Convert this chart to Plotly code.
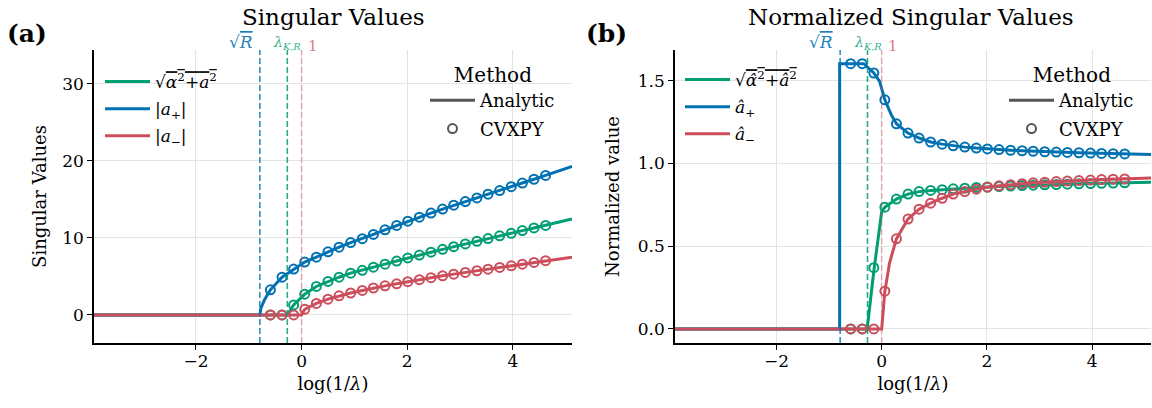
import plotly.graph_objects as go

# ---------------- data ----------------
x_cvx = [-0.59, -0.37, -0.15, 0.06, 0.28, 0.50, 0.71, 0.93, 1.15, 1.36, 1.58, 1.80, 2.01,
         2.23, 2.45, 2.67, 2.88, 3.10, 3.32, 3.53, 3.75, 3.97, 4.18, 4.40, 4.62]

# panel (a): singular values, CVXPY
sv_norm_cvx = [0, 0, 1.3, 2.7, 3.7, 4.35, 4.9, 5.43, 5.8, 6.2, 6.6, 7.0, 7.4,
               7.77, 8.15, 8.52, 8.87, 9.22, 9.57, 9.92, 10.27, 10.6, 10.95, 11.3, 11.63]
sv_plus_cvx = [3.26, 4.9, 5.96, 6.87, 7.5, 8.2, 8.8, 9.4, 9.9, 10.45, 11.05, 11.62, 12.17,
               12.7, 13.23, 13.75, 14.25, 14.72, 15.2, 15.68, 16.15, 16.65, 17.13, 17.62, 18.12]
sv_minus_cvx = [0, 0, 0, 0.74, 1.5, 2.05, 2.48, 2.85, 3.18, 3.5, 3.78, 4.05, 4.32,
                4.58, 4.84, 5.08, 5.3, 5.52, 5.74, 5.95, 6.17, 6.38, 6.6, 6.82, 7.05]

# panel (b): normalized values, CVXPY
nv_norm_cvx = [0, 0, 0.37, 0.736, 0.785, 0.815, 0.83, 0.837, 0.842, 0.847, 0.851, 0.855, 0.858,
               0.861, 0.864, 0.867, 0.869, 0.871, 0.873, 0.875, 0.877, 0.879, 0.880, 0.882, 0.883]
nv_plus_cvx = [1.603, 1.603, 1.547, 1.385, 1.24, 1.184, 1.154, 1.13, 1.117, 1.107, 1.099, 1.093, 1.088,
               1.084, 1.080, 1.077, 1.074, 1.071, 1.069, 1.067, 1.065, 1.063, 1.061, 1.059, 1.058]
nv_minus_cvx = [0, 0, 0, 0.228, 0.545, 0.664, 0.724, 0.76, 0.79, 0.815, 0.83, 0.845, 0.857,
                0.865, 0.872, 0.878, 0.883, 0.887, 0.891, 0.894, 0.897, 0.900, 0.903, 0.905, 0.907]

# analytic curves: onset points + CVXPY grid + end point
sv_norm_ana_x = [-3.93, -0.27] + x_cvx[2:] + [5.12]
sv_norm_ana_y = [0, 0] + sv_norm_cvx[2:] + [12.45]
sv_plus_ana_x = [-3.93, -0.79, -0.77, -0.74, -0.70, -0.65] + x_cvx + [5.12]
sv_plus_ana_y = [0, 0, 0.9, 1.5, 2.0, 2.6] + sv_plus_cvx + [19.3]
sv_minus_ana_x = [-3.93, 0.0] + x_cvx[3:] + [5.12]
sv_minus_ana_y = [0, 0] + sv_minus_cvx[3:] + [7.5]

nv_norm_ana_x = [-3.93, -0.276, -0.15, 0.0] + x_cvx[3:] + [5.12]
nv_norm_ana_y = [0, 0, 0.35, 0.71] + nv_norm_cvx[3:] + [0.886]
nv_plus_ana_x = [-3.93, -0.80, -0.80, -0.34, -0.15, -0.04, 0.06, 0.18] + x_cvx[4:] + [5.12]
nv_plus_ana_y = [0, 0, 1.603, 1.603, 1.547, 1.496, 1.385, 1.295] + nv_plus_cvx[4:] + [1.055]
nv_minus_ana_x = [-3.93, 0.0, 0.06, 0.15] + x_cvx[4:] + [5.12]
nv_minus_ana_y = [0, 0, 0.228, 0.40] + nv_minus_cvx[4:] + [0.912]

# reference positions (log(1/lambda))
vlines = [-0.79, -0.27, 0.0]   # sqrt(R), lambda_{K,R}, 1

x_ticks = [-2, 0, 2, 4]
ya_ticks = [0, 10, 20, 30]
yb_ticks = [0.0, 0.5, 1.0, 1.5]
yb_ticklabels = ["0.0", "0.5", "1.0", "1.5"]

# ---------------- styling ----------------
GREEN = "#009E73"
BLUE = "#0072B2"
RED = "#CC4E5C"
GRAY = "#555555"
FONT = "DejaVu Serif"
W, H = 1152, 408

def px(v):
    return v / W

def py(v):
    return 1 - v / H

fig = go.Figure()

labels_a = ["√<span style='text-decoration:overline'><i>α</i><sup>2</sup>+<i>a</i><sup>2</sup></span>",
            "|<i>a</i><sub>+</sub>|", "|<i>a</i><sub>−</sub>|"]
labels_b = ["√<span style='text-decoration:overline'><i>α̂</i><sup>2</sup>+<i>â</i><sup>2</sup></span>",
            "<i>â</i><sub>+</sub>", "<i>â</i><sub>−</sub>"]

panels = [
    ("x", "y", "legend", [(sv_norm_ana_x, sv_norm_ana_y, sv_norm_cvx, GREEN),
                          (sv_plus_ana_x, sv_plus_ana_y, sv_plus_cvx, BLUE),
                          (sv_minus_ana_x, sv_minus_ana_y, sv_minus_cvx, RED)], labels_a),
    ("x2", "y2", "legend3", [(nv_norm_ana_x, nv_norm_ana_y, nv_norm_cvx, GREEN),
                             (nv_plus_ana_x, nv_plus_ana_y, nv_plus_cvx, BLUE),
                             (nv_minus_ana_x, nv_minus_ana_y, nv_minus_cvx, RED)], labels_b),
]

for xa, ya, leg, series, labels in panels:
    for i, ((ax, ay, cy, col), lab) in enumerate(zip(series, labels)):
        fig.add_trace(go.Scatter(x=ax, y=ay, mode="lines", name=lab, xaxis=xa, yaxis=ya,
                                 line=dict(color=col, width=3), legend=leg,
                                 legendgroup=f"{leg}_{i}", showlegend=True))
        fig.add_trace(go.Scatter(x=x_cvx, y=cy, mode="markers", xaxis=xa, yaxis=ya,
                                 marker=dict(symbol="circle-open", size=9, color=col,
                                             line=dict(width=2, color=col)),
                                 showlegend=False, hoverinfo="skip"))

# method legends
for xa, ya, leg in [("x", "y", "legend2"), ("x2", "y2", "legend4")]:
    fig.add_trace(go.Scatter(x=[None], y=[None], mode="lines", name="Analytic", xaxis=xa, yaxis=ya,
                             line=dict(color=GRAY, width=3), legend=leg, legendgroup=leg + "a"))
    fig.add_trace(go.Scatter(x=[None], y=[None], mode="markers", name="CVXPY", xaxis=xa, yaxis=ya,
                             marker=dict(symbol="circle-open", size=9, color=GRAY,
                                         line=dict(width=2, color=GRAY)),
                             legend=leg, legendgroup=leg + "b"))

# vertical reference lines + labels
vcolors = ["rgba(0,114,178,0.8)", "rgba(0,158,115,0.85)", "rgba(204,78,92,0.4)"]
tcolors = ["rgba(0,114,178,0.9)", "rgba(0,158,115,0.85)", "rgba(204,78,92,0.75)"]
vtexts = ["√<span style='text-decoration:overline'><i>R</i></span>",
          "<i>λ</i><sub><i>K,R</i></sub>", "1"]
vsizes = [17, 14, 15]
vanch = [("right", -5, -4), ("center", 0, -4), ("left", 4, -7)]
for xa, ya in [("x", "y"), ("x2", "y2")]:
    for xv, lc, tc, txt, sz, (anc, sh, ys) in zip(vlines, vcolors, tcolors, vtexts, vsizes, vanch):
        fig.add_shape(type="line", xref=xa, yref=f"{ya} domain", x0=xv, x1=xv, y0=0, y1=1,
                      line=dict(color=lc, width=1.6, dash="6px,3px"), layer="above")
        fig.add_annotation(x=xv, xref=xa, y=1, yref=f"{ya} domain", text=txt, showarrow=False,
                           xanchor=anc, xshift=sh, yanchor="bottom", yshift=ys,
                           font=dict(family=FONT, size=sz, color=tc))

# dotted line at 1.0 in panel (b)
fig.add_shape(type="line", xref="x2 domain", yref="y2", x0=0, x1=1, y0=1.0, y1=1.0,
              line=dict(color="#444444", width=1.1, dash="dot"), layer="below")

# titles and panel tags
fig.add_annotation(x=px(333), y=py(17), xref="paper", yref="paper", text="Singular Values",
                   xanchor="center", yanchor="middle",
                   showarrow=False, font=dict(family=FONT, size=23, color="black"))
fig.add_annotation(x=px(911), y=py(17), xref="paper", yref="paper", text="Normalized Singular Values",
                   xanchor="center", yanchor="middle",
                   showarrow=False, font=dict(family=FONT, size=23, color="black"))
fig.add_annotation(x=px(5), y=py(33), xref="paper", yref="paper", text="<b>(a)</b>",
                   xanchor="left", yanchor="middle",
                   showarrow=False, font=dict(family=FONT, size=25, color="black"))
fig.add_annotation(x=px(584), y=py(33), xref="paper", yref="paper", text="<b>(b)</b>",
                   xanchor="left", yanchor="middle",
                   showarrow=False, font=dict(family=FONT, size=25, color="black"))

axis_common = dict(showgrid=True, gridcolor="#e3e3e3", gridwidth=1, zeroline=False,
                   showline=True, linecolor="black", linewidth=1.5, ticks="outside",
                   ticklen=5, tickwidth=1.2, tickcolor="black",
                   tickfont=dict(family=FONT, size=17, color="black"))

fig.update_layout(
    width=W, height=H, margin=dict(l=0, r=0, t=0, b=0),
    plot_bgcolor="white", paper_bgcolor="white",
    font=dict(family=FONT, color="black"),
    xaxis=dict(domain=[px(94), px(572)], range=[-3.93, 5.12], tickvals=x_ticks,
               title=dict(text="log(1/<i>λ</i>)", font=dict(family=FONT, size=18), standoff=7),
               ticklabelstandoff=-3, anchor="y", **axis_common),
    yaxis=dict(domain=[py(343), py(50)], range=[-3.64, 34.4], tickvals=ya_ticks,
               title=dict(text="Singular Values", font=dict(family=FONT, size=18), standoff=11),
               anchor="x", **axis_common),
    xaxis2=dict(domain=[px(675), px(1151)], range=[-3.93, 5.12], tickvals=x_ticks,
                title=dict(text="log(1/<i>λ</i>)", font=dict(family=FONT, size=18), standoff=7),
                ticklabelstandoff=-3, anchor="y2", **axis_common),
    yaxis2=dict(domain=[py(343), py(50)], range=[-0.085, 1.686], tickvals=yb_ticks,
                ticktext=yb_ticklabels,
                title=dict(text="Normalized value", font=dict(family=FONT, size=18), standoff=14),
                anchor="x2", **axis_common),
    legend=dict(x=px(100), y=py(64), xanchor="left", yanchor="top", bgcolor="rgba(0,0,0,0)",
                font=dict(family=FONT, size=17), tracegroupgap=2, itemwidth=45),
    legend2=dict(x=px(425), y=py(56), xanchor="left", yanchor="top", bgcolor="rgba(0,0,0,0)",
                 font=dict(family=FONT, size=18), tracegroupgap=2, itemwidth=45,
                 title=dict(text="Method", side="top center", font=dict(family=FONT, size=20))),
    legend3=dict(x=px(680), y=py(62), xanchor="left", yanchor="top", bgcolor="rgba(0,0,0,0)",
                 font=dict(family=FONT, size=17), tracegroupgap=2, itemwidth=45),
    legend4=dict(x=px(1004), y=py(56), xanchor="left", yanchor="top", bgcolor="rgba(0,0,0,0)",
                 font=dict(family=FONT, size=18), tracegroupgap=2, itemwidth=45,
                 title=dict(text="Method", side="top center", font=dict(family=FONT, size=20))),
)

fig.write_html("out.html")
